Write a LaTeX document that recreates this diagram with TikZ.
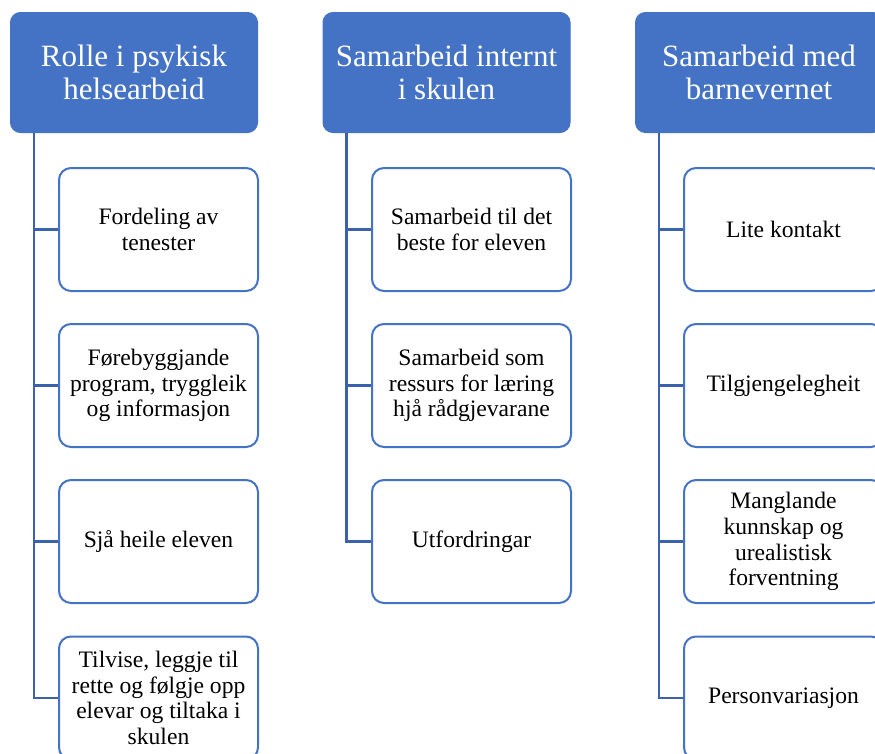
\documentclass[tikz,border=0pt]{standalone}
\usepackage{fontspec}
\setmainfont{Liberation Serif}
\definecolor{accent}{HTML}{4472C4}
\definecolor{linkblue}{HTML}{3C62AE}
\begin{document}
\begin{tikzpicture}[x=1pt,y=-1pt,
  headbox/.style={draw=accent,fill=accent,rounded corners=10pt,line width=1pt,
    minimum width=247pt,minimum height=120pt,inner sep=0pt,text=white,align=center,
    font=\fontsize{31}{33}\selectfont},
  itembox/.style={draw=accent,fill=white,rounded corners=12pt,line width=2pt,
    minimum width=199pt,minimum height=123pt,inner sep=0pt,align=center,
    font=\fontsize{23.6}{25.8}\selectfont},
  link/.style={draw=linkblue,line width=2.7pt}]
\path[use as bounding box,clip](0,0)rectangle(875,753);
\pgfmathsetmacro{\ya}{229.5}
\pgfmathsetmacro{\yb}{385.5}
\pgfmathsetmacro{\yc}{541.5}
\pgfmathsetmacro{\yd}{698}
\node[headbox](h1)at(134,72.5){Rolle i psykisk\\helsearbeid};
\node[headbox](h2)at(446.5,72.5){Samarbeid internt\\i skulen};
\node[headbox](h3)at(759,72.5){Samarbeid med\\barnevernet};
\node[itembox](c11)at(158.5,\ya){Fordeling av\\tenester};
\node[itembox](c12)at(158.5,\yb){Førebyggjande\\program, tryggleik\\og informasjon};
\node[itembox](c13)at(158.5,\yc){Sjå heile eleven};
\node[itembox](c14)at(158.5,\yd){Tilvise, leggje til\\rette og følgje opp\\elevar og tiltaka i\\skulen};
\node[itembox](c21)at(471.5,\ya){Samarbeid til det\\beste for eleven};
\node[itembox](c22)at(471.5,\yb){Samarbeid som\\ressurs for læring\\hjå rådgjevarane};
\node[itembox](c23)at(471.5,\yc){Utfordringar};
\node[itembox](c31)at(783.5,\ya){Lite kontakt};
\node[itembox](c32)at(783.5,\yb){Tilgjengelegheit};
\node[itembox](c33)at(783.5,\yc){Manglande\\kunnskap og\\urealistisk\\forventning};
\node[itembox](c34)at(783.5,\yd){Personvariasjon};
\foreach \c in {c11,c12,c13,c14}
  \draw[link]([xshift=24pt]h1.south west)|-(\c.west);
\foreach \c in {c21,c22,c23}
  \draw[link]([xshift=24pt]h2.south west)|-(\c.west);
\foreach \c in {c31,c32,c33,c34}
  \draw[link]([xshift=24pt]h3.south west)|-(\c.west);
\end{tikzpicture}
\end{document}
